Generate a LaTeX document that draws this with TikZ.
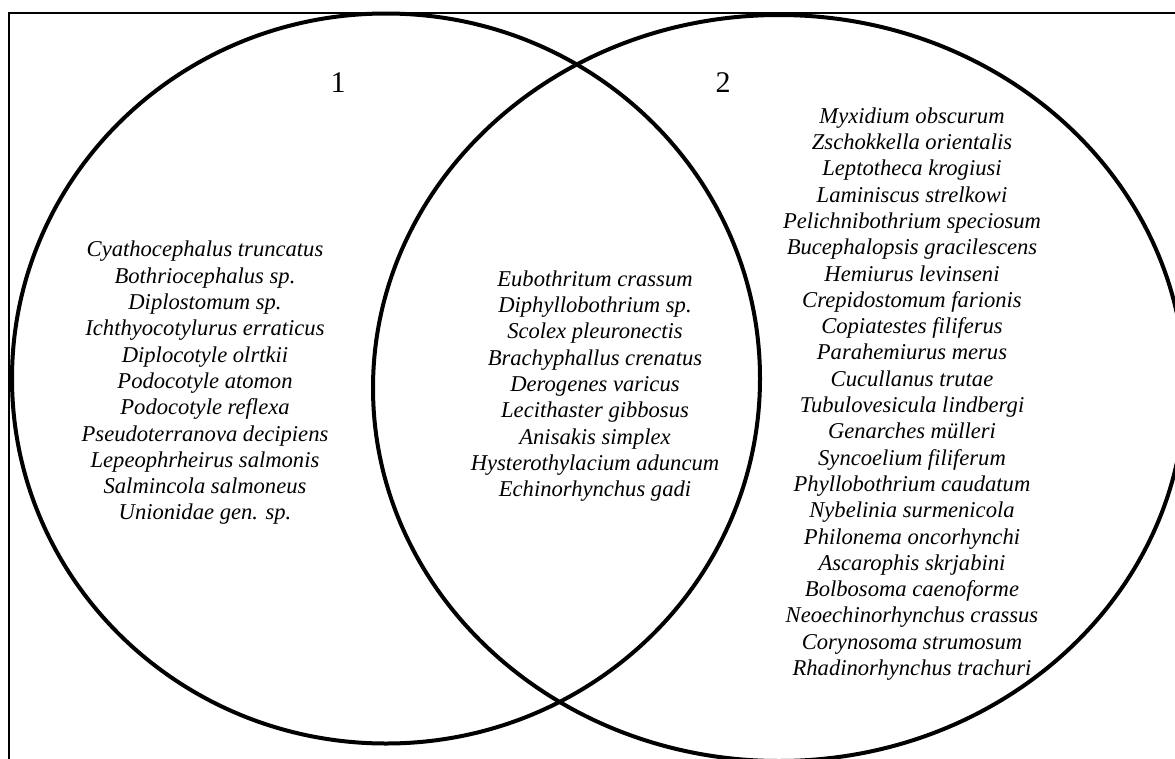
\documentclass[tikz,border=0pt]{standalone}
\usepackage{fontspec}
\setmainfont{Liberation Serif}
\usepackage{tikz}
\usetikzlibrary{positioning}

\tikzset{
    species/.style={align=center, inner sep=0pt, font=\fontsize{22.6}{26.3}\selectfont\itshape},
    setlabel/.style={inner sep=0pt, font=\fontsize{30}{34}\selectfont},
    setline/.style={line width=4pt}
}

\begin{document}
\begin{tikzpicture}[x=1pt, y=-1pt]
    \useasboundingbox (0,0) rectangle (1175,758);
    \clip (0,0) rectangle (1175,758);

    % 1. Frame
    \draw[line width=1.2pt] (9,13) rectangle (1200,790);

    % 2. The two sets
    \draw[setline] (386,378.5) ellipse [x radius=374, y radius=365];
    \draw[setline] (779,388) ellipse [x radius=406, y radius=373];

    % 3. Set numbers
    \node[setlabel] (lab1) at (338,83) {1};
    \node[setlabel] (lab2) at (723,83) {2};

    % 4. Species of set 1 only
    \node[species] (only1) at (205,383) {
        Cyathocephalus truncatus\\
        Bothriocephalus sp.\\
        Diplostomum sp.\\
        Ichthyocotylurus erraticus\\
        Diplocotyle olrtkii\\
        Podocotyle atomon\\
        Podocotyle reflexa\\
        Pseudoterranova decipiens\\
        Lepeophrheirus salmonis\\
        Salmincola salmoneus\\
        Unionidae gen. sp.};

    % 5. Species common to both
    \node[species] (common) at (595,386) {
        Eubothritum crassum\\
        Diphyllobothrium sp.\\
        Scolex pleuronectis\\
        Brachyphallus crenatus\\
        Derogenes varicus\\
        Lecithaster gibbosus\\
        Anisakis simplex\\
        Hysterothylacium aduncum\\
        Echinorhynchus gadi};

    % 6. Species of set 2 only
    \node[species] (only2) at (912,394) {
        Myxidium obscurum\\
        Zschokkella orientalis\\
        Leptotheca krogiusi\\
        Laminiscus strelkowi\\
        Pelichnibothrium speciosum\\
        Bucephalopsis gracilescens\\
        Hemiurus levinseni\\
        Crepidostomum farionis\\
        Copiatestes filiferus\\
        Parahemiurus merus\\
        Cucullanus trutae\\
        Tubulovesicula lindbergi\\
        Genarches m\"ulleri\\
        Syncoelium filiferum\\
        Phyllobothrium caudatum\\
        Nybelinia surmenicola\\
        Philonema oncorhynchi\\
        Ascarophis skrjabini\\
        Bolbosoma caenoforme\\
        Neoechinorhynchus crassus\\
        Corynosoma strumosum\\
        Rhadinorhynchus trachuri};
\end{tikzpicture}
\end{document}
